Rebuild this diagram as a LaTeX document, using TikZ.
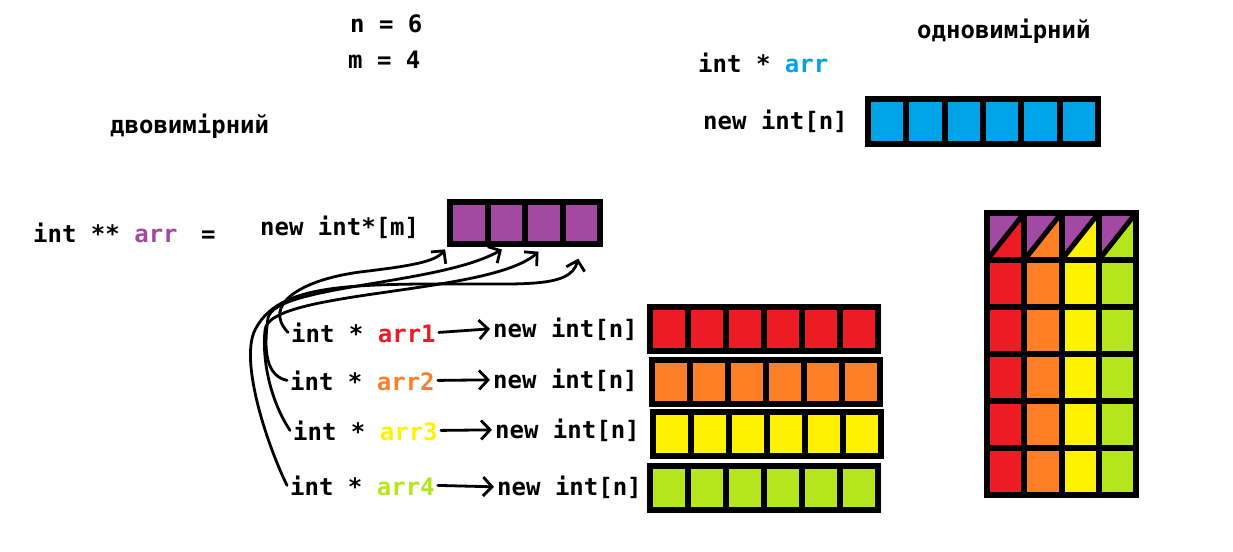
\documentclass[tikz,border=0pt]{standalone}
\usepackage{fontspec}
\setmonofont{DejaVu Sans Mono}
\usepackage{tikz}
\usetikzlibrary{arrows.meta}
\tikzset{>={Straight Barb[length=9pt,width=19pt]}}
\usepackage{xcolor}
\definecolor{mypurple}{HTML}{A349A4}
\definecolor{myblue}{HTML}{00A2E8}
\definecolor{myred}{HTML}{ED1C24}
\definecolor{myorange}{HTML}{FF7F27}
\definecolor{myyellow}{HTML}{FFF200}
\definecolor{mygreen}{HTML}{B5E61D}
\tikzset{
  txt/.style={font=\ttfamily\bfseries\fontsize{24}{28}\selectfont, inner sep=3pt, anchor=base west},
  cell/.style={draw, line width=6pt, inner sep=0pt, minimum width=38pt, minimum height=44pt},
  hand/.style={->, line width=2.8pt, line cap=round, line join=round}
}

\begin{document}
\begin{tikzpicture}[x=1pt,y=-1pt]
			\useasboundingbox (0,0) rectangle (1233,551);
			\node[txt] (n) at (347,33) {n = 6};
			\node[txt] (m) at (345,68) {m = 4};
			\node[txt] (dvo) at (107,133) {двовимірний};
			\node[txt] (odno) at (914,39) {одновимірний};
			\node[txt] (arr) at (695,73) {int * {\color{myblue}arr}};
			\node[txt] (newn) at (700,129) {new int[n]};
			\node[txt] (arrpp) at (30,242) {int ** {\color{mypurple}arr} \hspace{9pt}=};
			\node[txt] (newm) at (257,235) {new int*[m]};
			\node[txt] (a1) at (288,342) {int * {\color{myred}arr1}};
			\node[txt] (na1) at (490,337) {new int[n]};
			\node[txt] (a2) at (287,390) {int * {\color{myorange}arr2}};
			\node[txt] (na2) at (490,388) {new int[n]};
			\node[txt] (a3) at (290,440) {int * {\color{myyellow}arr3}};
			\node[txt] (na3) at (492,438) {new int[n]};
			\node[txt] (a4) at (287,495) {int * {\color{mygreen}arr4}};
			\node[txt] (na4) at (494,495) {new int[n]};
			\foreach \i in {1,...,4} \node[cell, fill=mypurple, minimum width=37.5pt, minimum height=42pt] (p\i) at ({431.25+37.5*\i},223) {};
			\foreach \i in {1,...,6} \node[cell, fill=myblue, minimum width=38.3pt, minimum height=45pt] (b\i) at ({848.85+38.3*\i},121.5) {};
			\foreach \i in {1,...,6} \node[cell, fill=myred] (r\i) at ({631+38*\i},329) {};
			\foreach \i in {1,...,6} \node[cell, fill=myorange] (o\i) at ({633+38*\i},382) {};
			\foreach \i in {1,...,6} \node[cell, fill=myyellow] (y\i) at ({634+38*\i},434) {};
			\foreach \i in {1,...,6} \node[cell, fill=mygreen] (g\i) at ({631+38*\i},488) {};
			\foreach \col [count=\k from 0] in {myred,myorange,myyellow,mygreen} {
				\fill[mypurple] ({987+37.25*\k},213) -- ++(37.25,0) -- ++(-37.25,47) -- cycle;
				\fill[\col] ({1024.25+37.25*\k},213) -- ++(0,47) -- ++(-37.25,0) -- cycle;
				\draw[line width=5pt] ({987+37.25*\k},260) -- ++(37.25,-47);
				\draw[line width=6pt] ({987+37.25*\k},213) rectangle ++(37.25,47);
				\foreach \r in {1,...,5}
					\filldraw[fill=\col, line width=6pt] ({987+37.25*\k},{213+47*\r}) rectangle ++(37.25,47);
			}
			\draw[hand] (a1.east) -- (na1.west);
			\draw[hand] (a2.east) -- (na2.west);
			\draw[hand] (a3.east) -- (na3.west);
			\draw[hand] (a4.east) -- (na4.west);
			\draw[hand, shorten >=3pt] (a1.west) .. controls (262,305) and (300,280) .. (360,272) .. controls (410,266) and (435,262) .. (p1.south west);
			\draw[hand, shorten >=5pt] (a2.west) .. controls (262,375) and (265,340) .. (268,318) .. controls (275,285) and (440,285) .. (p2.south);
			\draw[hand, shorten >=7pt] (a3.west) .. controls (270,400) and (262,360) .. (265,330) .. controls (268,290) and (490,295) .. (p3.south);
			\draw[hand, shorten >=12pt] (a4.west) .. controls (265,440) and (240,360) .. (255,330) .. controls (275,290) and (330,285) .. (420,284) .. controls (520,283) and (570,290) .. (p4.south);
		\end{tikzpicture}
\end{document}
